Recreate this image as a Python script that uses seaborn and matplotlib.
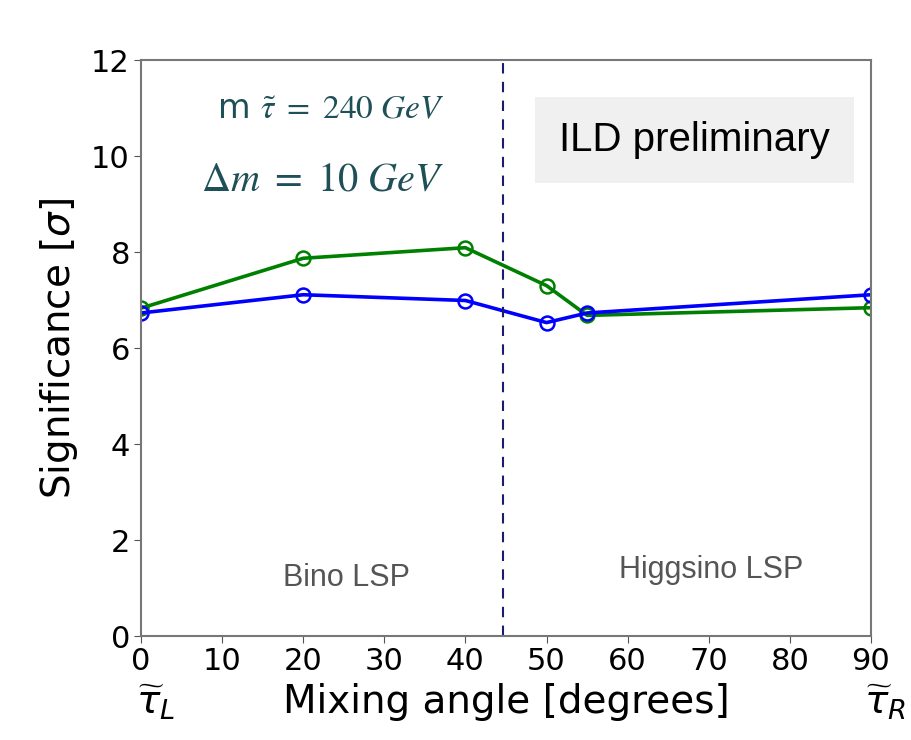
import matplotlib
matplotlib.use("Agg")
import matplotlib.pyplot as plt
import seaborn as sns
import pandas as pd

# mixing angle in degrees
angles = [0, 20, 40, 50, 55, 90]
sig_green = [6.83, 7.87, 8.09, 7.30, 6.68, 6.84]
sig_blue = [6.73, 7.11, 6.99, 6.53, 6.73, 7.11]
boundary = 44.6

xticks = [0, 10, 20, 30, 40, 50, 60, 70, 80, 90]
yticks = [0, 2, 4, 6, 8, 10, 12]

df = pd.DataFrame({
    "angle": angles * 2,
    "sig": sig_green + sig_blue,
    "series": ["green"] * len(angles) + ["blue"] * len(angles),
})

sns.set_style("ticks")
plt.rcParams["font.family"] = ["DejaVu Sans"]
plt.rcParams["text.color"] = "black"
plt.rcParams["axes.labelcolor"] = "black"
plt.rcParams["xtick.color"] = "black"
plt.rcParams["ytick.color"] = "black"

fig = plt.figure(figsize=(9.12, 7.4), dpi=100)
ax = fig.add_axes([0.1546, 0.1405, 0.8004, 0.7784])

sns.lineplot(data=df, x="angle", y="sig", hue="series",
             palette={"green": "green", "blue": "blue"},
             marker="o", markersize=10, markerfacecolor="none",
             markeredgewidth=1.8, linewidth=2.6, legend=False, ax=ax)
for line in ax.lines:
    line.set_markeredgecolor(line.get_color())

ax.axvline(boundary, color="#1c1c6e", linestyle=(0, (5, 4)), linewidth=1.5)

ax.set_xlim(0, 90)
ax.set_ylim(0, 12)
ax.set_xticks(xticks)
ax.set_yticks(yticks)
ax.tick_params(labelsize=22, length=5, color="#555555", pad=3)
for s in ax.spines.values():
    s.set_color("#777777")
    s.set_linewidth(1.5)

ax.set_xlabel("Mixing angle [degrees]", fontsize=28, labelpad=5)
ax.set_ylabel(r"Significance [$\sigma$]", fontsize=28, labelpad=8)

ax.text(0.02, -0.115, r"$\widetilde{\tau}_L$", transform=ax.transAxes,
        fontsize=28, ha="center", va="center", math_fontfamily="dejavusans")
ax.text(1.02, -0.115, r"$\widetilde{\tau}_R$", transform=ax.transAxes,
        fontsize=28, ha="center", va="center", math_fontfamily="dejavusans")

teal = "#1f4f57"
ax.text(0.416, 0.913, r"m $\tilde{\tau}\ =\ 240\ GeV$", transform=ax.transAxes,
        fontsize=24, color=teal, ha="right", va="center", math_fontfamily="stix")
ax.text(0.416, 0.792, r"$\Delta m\ =\ 10\ GeV$", transform=ax.transAxes,
        fontsize=29, color=teal, ha="right", va="center", math_fontfamily="stix")

ax.text(0.758, 0.861, "ILD preliminary", transform=ax.transAxes,
        fontsize=29, family="Liberation Sans", ha="center", va="center",
        bbox=dict(boxstyle="square,pad=0.6", fc="#f0f0f0", ec="none"))

ax.text(0.281, 0.10, "Bino LSP", transform=ax.transAxes, fontsize=22,
        family="Liberation Sans", color="#555555", ha="center", va="center")
ax.text(0.781, 0.115, "Higgsino LSP", transform=ax.transAxes, fontsize=22,
        family="Liberation Sans", color="#555555", ha="center", va="center")

fig.savefig("out.png", dpi=100)
